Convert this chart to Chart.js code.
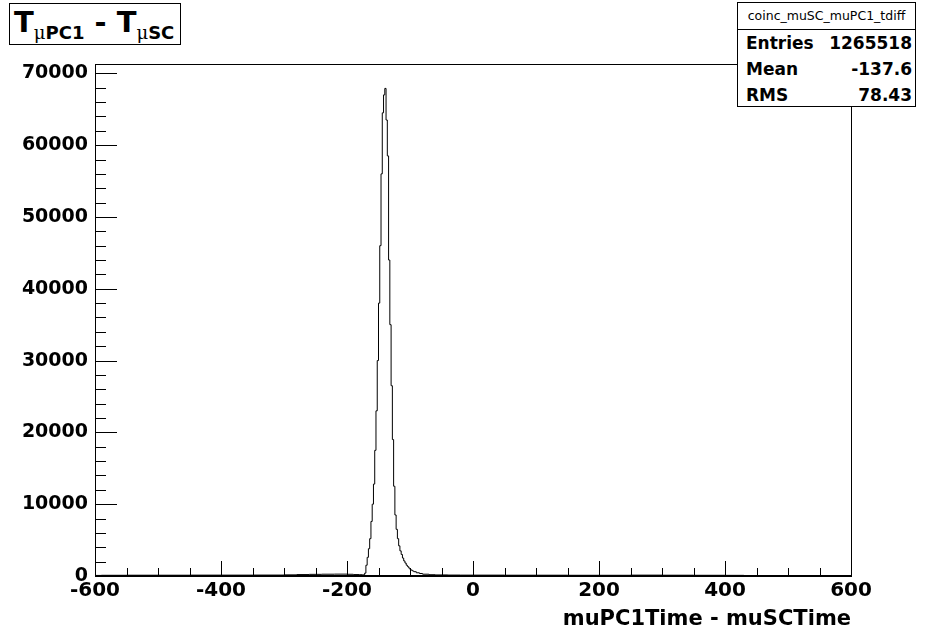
<!DOCTYPE html>
<html>
<head>
<meta charset="utf-8">
<script src="https://cdn.jsdelivr.net/npm/chart.js@4.4.0/dist/chart.umd.min.js"></script>
<style>
	html, body { margin: 0; padding: 0; background: #fff; }
	#wrap { position: relative; width: 945px; height: 640px; }
	#plot { position: absolute; left: 0; top: 0; }
	#title {
		position: absolute; left: 9px; top: 3px; width: 172px; height: 42px;
		box-sizing: border-box; border: 1px solid #000; background: #fff;
		font-family: "DejaVu Sans"; font-weight: bold; color: #000;
		white-space: nowrap; padding-left: 4px; line-height: 36px;
	}
	#title .big { font-size: 29px; }
	#title .sub { font-size: 18px; position: relative; top: 7px; }
	#title .mu { font-family: "DejaVu Serif"; font-weight: normal; }
	#stats {
		position: absolute; left: 737px; top: 2px; width: 179px; height: 105px;
		box-sizing: border-box; border: 1px solid #000; background: #fff;
		font-family: "DejaVu Sans"; color: #000;
	}
	#stats .hdr {
		height: 26px; line-height: 26px; text-align: center; font-size: 12.5px;
		border-bottom: 1px solid #000;
	}
	#stats .row {
		display: flex; justify-content: space-between; height: 26px; line-height: 26px;
		font-size: 17px; font-weight: bold; padding: 0 3px 0 8px;
	}
</style>
</head>
<body>
<div id="wrap">
	<canvas id="plot" width="945" height="640"></canvas>
	<div id="title"><span class="big">T</span><span class="sub"><span class="mu">μ</span>PC1</span><span class="big"> - T</span><span class="sub"><span class="mu">μ</span>SC</span></div>
	<div id="stats">
		<div class="hdr">coinc_muSC_muPC1_tdiff</div>
		<div class="row"><span>Entries</span><span>1265518</span></div>
		<div class="row"><span>Mean</span><span>-137.6</span></div>
		<div class="row"><span>RMS</span><span>78.43</span></div>
	</div>
</div>
<script>
// histogram bins: lower edges (last entry is the upper edge of the last bin)
const binEdges = [
	-600, -590, -550, -500, -450, -400, -350, -300,
	-280, -260, -240, -220, -200, -190, -180, -176,
	-172, -170, -168, -166, -164, -162, -160, -158, -156, -154,
	-152, -150, -148, -146, -144, -142, -140, -138, -136, -134,
	-132, -130, -128, -126, -124, -122, -120, -118, -116, -114,
	-112, -110, -108, -106, -104, -102, -100,
	-98, -96, -94, -90, -85, -80, -70, -60, -40, -20,
	0, 50, 100, 150, 200, 250, 300, 350, 400, 430,
	600
];
const binCounts = [
	80, 100, 110, 110, 120, 120, 130, 160,
	200, 230, 250, 260, 240, 200, 180, 160,
	400, 1500, 2600, 3800, 5200, 7600, 10000, 12800, 17500, 23000,
	30000, 38000, 46000, 56000, 64500, 67000, 67900, 63500, 58500, 44000,
	35000, 26500, 19000, 12500, 8500, 6500, 5200, 4200, 3500, 3000,
	2500, 2100, 1800, 1500, 1300, 1100, 900,
	800, 700, 600, 450, 350, 250, 180, 150, 130, 120,
	120, 110, 110, 100, 100, 120, 110, 100, 90, 0
];
const xTickValues = [-600, -400, -200, 0, 200, 400, 600];
const yTickValues = [0, 10000, 20000, 30000, 40000, 50000, 60000, 70000];
const xRange = [-600, 600];
const yRange = [0, 71300];

const histPoints = binEdges.map((edge, i) => ({
	x: edge,
	y: i < binCounts.length ? binCounts[i] : binCounts[binCounts.length - 1]
}));

// ROOT style frame with ticks pointing inward
const rootFrame = {
	id: 'rootFrame',
	afterDatasetsDraw(chart) {
		const ctx = chart.ctx;
		const area = chart.chartArea;
		const xs = chart.scales.x;
		const ys = chart.scales.y;
		ctx.save();
		ctx.strokeStyle = '#000';
		ctx.lineWidth = 1;
		ctx.strokeRect(area.left + 0.5, area.top + 0.5, area.right - area.left, area.bottom - area.top);

		ctx.beginPath();
		for (let v = xRange[0]; v <= xRange[1]; v += 50) {
			const px = Math.round(xs.getPixelForValue(v)) + 0.5;
			const len = (v % 200 === 0) ? 15 : 8;
			ctx.moveTo(px, area.bottom);
			ctx.lineTo(px, area.bottom - len);
		}
		for (let v = 0; v <= yRange[1]; v += 2000) {
			const py = Math.round(ys.getPixelForValue(v)) + 0.5;
			const len = (v % 10000 === 0) ? 22 : 11;
			ctx.moveTo(area.left, py);
			ctx.lineTo(area.left + len, py);
		}
		ctx.stroke();

		ctx.lineWidth = 2;
		ctx.beginPath();
		ctx.moveTo(area.left, area.bottom);
		ctx.lineTo(area.right + 1, area.bottom);
		ctx.stroke();
		ctx.restore();
	}
};

const ctx = document.getElementById('plot').getContext('2d');
const chart = new Chart(ctx, {
	type: 'line',
	data: {
		datasets: [{
			data: histPoints,
			stepped: 'before',
			borderColor: '#000',
			borderWidth: 1,
			pointRadius: 0,
			fill: false
		}]
	},
	options: {
		responsive: false,
		animation: false,
		layout: { padding: { left: 0, top: 64, right: 94, bottom: 0 } },
		plugins: {
			legend: { display: false },
			tooltip: { enabled: false }
		},
		scales: {
			x: {
				type: 'linear',
				min: xRange[0],
				max: xRange[1],
				grid: { display: false, drawTicks: false },
				border: { display: false },
				afterBuildTicks(scale) {
					scale.ticks = xTickValues.map(v => ({ value: v }));
				},
				afterFit(scale) { scale.height = 64; },
				ticks: {
					color: '#000',
					padding: 3,
					maxRotation: 0,
					autoSkip: false,
					font: { family: 'DejaVu Sans', weight: 'bold', size: 20 },
					callback: v => String(v)
				},
				title: {
					display: true,
					text: 'muPC1Time - muSCTime',
					align: 'end',
					color: '#000',
					font: { family: 'DejaVu Sans', weight: 'bold', size: 21 },
					padding: { top: 0, bottom: 8 }
				}
			},
			y: {
				min: yRange[0],
				max: yRange[1],
				grid: { display: false, drawTicks: false },
				border: { display: false },
				afterBuildTicks(scale) {
					scale.ticks = yTickValues.map(v => ({ value: v }));
				},
				afterFit(scale) { scale.width = 95; },
				ticks: {
					color: '#000',
					padding: 7,
					autoSkip: false,
					font: { family: 'DejaVu Sans', weight: 'bold', size: 19 },
					callback: v => String(v)
				}
			}
		}
	},
	plugins: [rootFrame]
});
</script>
</body>
</html>
